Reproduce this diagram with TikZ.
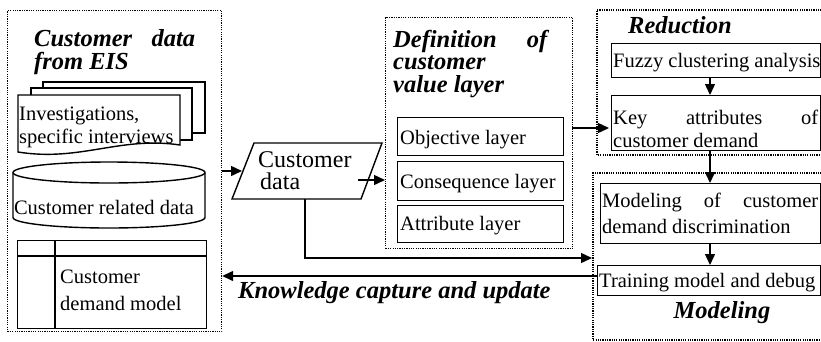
\documentclass[tikz,border=0pt]{standalone}
\usepackage{fontspec}
\setmainfont{Liberation Serif}
\usetikzlibrary{arrows.meta}
\begin{document}
\begin{tikzpicture}[x=1pt,y=-1pt,
  dotbox/.style={draw, line width=1.2pt, dash pattern=on 1.2pt off 1.1pt, inner sep=0, anchor=north west},
  dotline/.style={line width=1.2pt, dash pattern=on 1.2pt off 1.1pt},
  solidbox/.style={draw, line width=1.4pt, inner sep=0, anchor=north west, fill=white},
  shp/.style={line width=1.4pt, fill=white},
  txt/.style={inner sep=0, anchor=base west, font=\fontsize{20.5}{24}\selectfont},
  bitxt/.style={inner sep=0, anchor=base west, font=\fontsize{24.5}{24}\selectfont\bfseries\itshape},
  arr/.style={line width=1.4pt, -{Triangle[length=11pt,width=10pt]}},
]
\useasboundingbox (0,0) rectangle (821,341);

% ---------- left box ----------
\node[dotbox, minimum width=214pt, minimum height=321pt] (leftbox) at (7,10) {};
\node[bitxt, align=left, font=\fontsize{24.5}{23}\selectfont\bfseries\itshape] (title) at (34,69)
  {\makebox[161pt][s]{Customer data}\\from EIS};

\draw[shp] (43,82) rectangle (205,133);
\draw[shp] (31,88) rectangle (192,140);
\draw[shp] (18,95) -- (180,95) -- (180,145) .. controls (120,136) and (80,162) .. (18,152) -- cycle;
\node[txt, align=left, font=\fontsize{20.5}{23}\selectfont] (inv) at (19,143) {Investigations,\\specific interviews};

\draw[shp] (13,172.5) -- (13,217.5) arc[start angle=180,end angle=360,x radius=96pt,y radius=10.5pt]
  -- (205,172.5) arc[start angle=0,end angle=180,x radius=96pt,y radius=10.5pt] -- cycle;
\draw[line width=1.4pt] (13,172.5) arc[start angle=180,end angle=360,x radius=96pt,y radius=10.5pt];
\node[txt, anchor=center] (crd) at (104,207) {Customer related data};

\node[solidbox, minimum width=189pt, minimum height=88pt] (cdm) at (17,240) {};
\draw[line width=1.4pt] ([yshift=-16pt]cdm.north west) -- ([yshift=-16pt]cdm.north east);
\draw[line width=1.4pt] ([xshift=38pt]cdm.north west) -- ([xshift=38pt]cdm.south west);
\node[txt, align=left, font=\fontsize{20.5}{27}\selectfont] (cdmt) at (60,310) {Customer\\demand model};

% ---------- customer data parallelogram ----------
\draw[shp] (254,143) -- (382,143) -- (361,199) -- (232,199) -- cycle;
\node[inner sep=0, anchor=base west, align=left, font=\fontsize{24}{22}\selectfont] (cd) at (258,189) {Customer\\\hspace*{2pt}data};
\coordinate (pin) at (242,171);
\coordinate (pout) at (358,180);
\coordinate (cdbot) at (305,199);

% ---------- definition box ----------
\node[dotbox, minimum width=187pt, minimum height=231pt] (defbox) at (385,17) {};
\node[bitxt, align=left, font=\fontsize{24.5}{22.5}\selectfont\bfseries\itshape] (dtitle) at (393,92)
  {\makebox[154pt][s]{Definition of}\\customer\\value layer};
\node[solidbox, minimum width=166pt, minimum height=38pt] (obj) at (397,117) {};
\node[txt] at (400,144) {Objective layer};
\node[solidbox, minimum width=166pt, minimum height=39pt] (con) at (397,161) {};
\node[txt] at (400,188) {Consequence layer};
\node[solidbox, minimum width=166pt, minimum height=37pt] (att) at (397,205) {};
\node[txt] at (400,230.5) {Attribute layer};

% ---------- reduction ----------
\draw[dotline] (826,10) -- (597,10) -- (597,155) -- (826,155);
\node[bitxt] (red) at (628,33) {Reduction};
\node[solidbox, minimum width=209pt, minimum height=34pt] (fuzzy) at (611,43) {};
\node[txt] at (613,67) {Fuzzy clustering analysis};
\node[solidbox, minimum width=209pt, minimum height=55pt] (key) at (611,95) {};
\node[txt, align=left, font=\fontsize{20.5}{23}\selectfont] at (613,147) {\makebox[205pt][s]{Key attributes of}\\customer demand};

% ---------- modeling ----------
\draw[dotline] (826,173) -- (593,173) -- (593,340) -- (826,340);
\node[solidbox, minimum width=220pt, minimum height=60pt] (mcd) at (600,183) {};
\node[txt, align=left, font=\fontsize{20.5}{26}\selectfont] at (602,233) {\makebox[216pt][s]{Modeling of customer}\\demand discrimination};
\node[solidbox, minimum width=223pt, minimum height=30pt] (train) at (597,265) {};
\node[txt] at (599,287) {Training model and debug};
\node[bitxt, anchor=base] (mod) at (722,318) {Modeling};

% ---------- connectors ----------
\coordinate (vx) at (710,0);
\coordinate (a3) at (572,128);
\coordinate (mleft) at (592,258);
\coordinate (kn) at (597,276);
\draw[arr] (leftbox.east |- pin) -- (pin);
\draw[arr] (pout) -- (defbox.west |- pout);
\draw[arr] (a3) -- ([xshift=-2pt]key.west |- a3);
\draw[arr] (fuzzy.south -| vx) -- (key.north -| vx);
\draw[arr] (key.south -| vx) -- (mcd.north -| vx);
\draw[arr] (mcd.south -| vx) -- (train.north -| vx);
\draw[arr] (cdbot) -- (cdbot |- mleft) -- (mleft);
\draw[arr] (kn) -- (leftbox.east |- kn);
\node[bitxt] (kl) at (238,298) {Knowledge capture and update};
\end{tikzpicture}
\end{document}
